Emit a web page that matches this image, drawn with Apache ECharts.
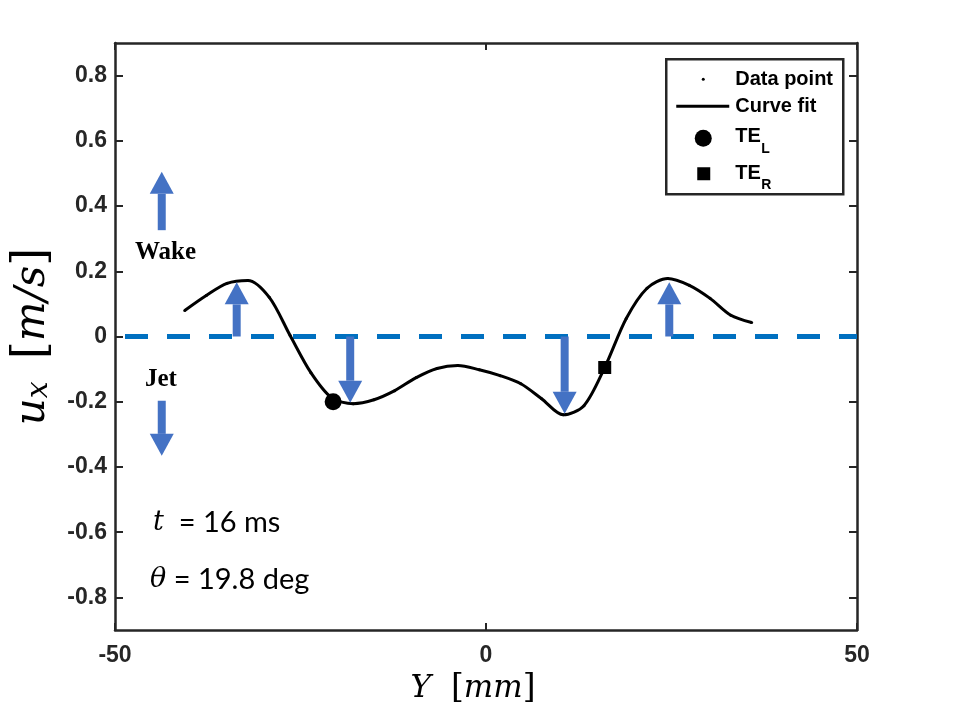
<!DOCTYPE html>
<html>
<head>
<meta charset="utf-8">
<script src="https://cdn.jsdelivr.net/npm/echarts@6/dist/echarts.min.js"></script>
<style>html,body{margin:0;padding:0;background:#fff;}#c{width:953px;height:703px;}</style>
</head>
<body>
<div id="c"></div>
<script>
// Data
const xData = [-40.6, -37.7, -34.9, -32.1, -29.2, -26.4, -23.6, -20.8, -17.9, -15.1, -12.3, -9.4, -6.6, -3.8,
               -0.9, 1.9, 4.7, 7.5, 10.4, 13.2, 16.0, 18.9, 21.7, 24.5, 27.4, 30.2, 33.0, 35.8];
const yData = [0.080, 0.126, 0.163, 0.172, 0.120, 0.003, -0.111, -0.188, -0.206, -0.194, -0.166, -0.126, -0.098, -0.089,
               -0.102, -0.120, -0.145, -0.191, -0.240, -0.212, -0.095, 0.055, 0.148, 0.178, 0.157, 0.117, 0.065, 0.043];
const teL = [-20.6, -0.200];
const teR = [16.0, -0.095];
// arrows: [x, yStart, yTip]
const arrows = [[-33.6, 0, 0.166], [-18.3, 0, -0.203], [10.6, 0, -0.237], [24.7, 0, 0.166],
                [-43.7, 0.326, 0.505], [-43.7, -0.197, -0.366]];
const refLine = [[-50, 0], [50, 0]];
const xTicks = [-50, 0, 50];
const yTicks = [-0.8, -0.6, -0.4, -0.2, 0, 0.2, 0.4, 0.6, 0.8];

const points = xData.map((x, i) => [x, yData[i]]);
const axisColor = '#262626';
const labelFont = { fontFamily: 'Liberation Sans, Arial', fontWeight: 'bold', fontSize: 23, color: axisColor };
const fmt = v => (Math.abs(v) < 1e-9 ? '0' : (Number.isInteger(v) ? String(v) : v.toFixed(1)));

const chart = echarts.init(document.getElementById('c'));
chart.setOption({
  animation: false,
  backgroundColor: '#fff',
  grid: { left: 115, top: 43, right: 96, bottom: 73, containLabel: false, outerBoundsMode: 'none' },
  xAxis: [{
    type: 'value', min: -50, max: 50, interval: 50,
    axisLine: { show: true, onZero: false, lineStyle: { color: axisColor, width: 2.5 } },
    axisTick: { show: true, inside: true, length: 7, lineStyle: { color: axisColor, width: 2 }, customValues: xTicks },
    axisLabel: { show: true, margin: 14, ...labelFont, customValues: xTicks, formatter: fmt },
    splitLine: { show: false },
    name: '{it|Y}{sp| }{n|[}{it|mm}{n|]}',
    nameLocation: 'middle', nameGap: 42,
    nameTextStyle: {
      padding: [0, 26, 0, 0],
      rich: {
        it: { fontFamily: 'DejaVu Serif', fontStyle: 'italic', fontSize: 31, color: '#000' },
        n: { fontFamily: 'DejaVu Serif', fontSize: 33, color: '#000' },
        sp: { fontSize: 30, width: 20 }
      }
    }
  }, {
    type: 'value', min: -50, max: 50, interval: 50, position: 'top',
    axisLine: { show: true, onZero: false, lineStyle: { color: axisColor, width: 2.5 } },
    axisTick: { show: true, inside: true, length: 7, lineStyle: { color: axisColor, width: 2 }, customValues: xTicks },
    axisLabel: { show: false }, splitLine: { show: false }
  }],
  yAxis: [{
    type: 'value', min: -0.9, max: 0.9,
    axisLine: { show: true, onZero: false, lineStyle: { color: axisColor, width: 2.5 } },
    axisTick: { show: true, inside: true, length: 8, lineStyle: { color: axisColor, width: 2 }, customValues: yTicks },
    axisLabel: { show: true, margin: 8, ...labelFont, customValues: yTicks, formatter: fmt },
    splitLine: { show: false },
    name: '{it|u}{sub|x}{sp| }{n|[}{it|m/s}{n|]}',
    nameLocation: 'middle', nameGap: 48, nameRotate: 90,
    nameTextStyle: {
      rich: {
        it: { fontFamily: 'DejaVu Serif', fontStyle: 'italic', fontSize: 42, color: '#000', lineHeight: 50 },
        sub: { fontFamily: 'DejaVu Serif', fontStyle: 'italic', fontSize: 30, color: '#000', lineHeight: 50, padding: [12, 0, 0, 0] },
        n: { fontFamily: 'DejaVu Serif', fontSize: 46, color: '#000', lineHeight: 50 },
        sp: { fontSize: 30, width: 22 }
      }
    }
  }, {
    type: 'value', min: -0.9, max: 0.9, position: 'right',
    axisLine: { show: true, onZero: false, lineStyle: { color: axisColor, width: 2.5 } },
    axisTick: { show: true, inside: true, length: 8, lineStyle: { color: axisColor, width: 2 }, customValues: yTicks },
    axisLabel: { show: false }, splitLine: { show: false }
  }],
  series: [
    {
      name: 'zero', type: 'line', data: refLine, symbol: 'none', silent: true, z: 1,
      lineStyle: { color: '#0070C0', width: 5, type: [23, 19], dashOffset: 32 }
    },
    {
      name: 'Curve fit', type: 'line', data: points, smooth: 0.3, symbol: 'none', z: 3,
      lineStyle: { color: '#000', width: 3 }
    },
    {
      name: 'Data point', type: 'scatter', data: points, symbol: 'circle', symbolSize: 3, z: 4,
      itemStyle: { color: '#000', opacity: 1 }
    },
    {
      name: 'arrows', type: 'custom', data: arrows, z: 5, silent: true,
      renderItem: function (params, api) {
        const p0 = api.coord([api.value(0), api.value(1)]);
        const p1 = api.coord([api.value(0), api.value(2)]);
        const dir = p1[1] > p0[1] ? 1 : -1;
        const headL = 22, headW = 24, shaftW = 8;
        const baseY = p1[1] - dir * headL;
        return {
          type: 'group',
          children: [
            { type: 'rect', shape: { x: p0[0] - shaftW / 2, y: Math.min(p0[1], baseY), width: shaftW, height: Math.abs(baseY - p0[1]) },
              style: { fill: '#4472C4' } },
            { type: 'polygon', shape: { points: [[p1[0], p1[1]], [p1[0] - headW / 2, baseY], [p1[0] + headW / 2, baseY]] },
              style: { fill: '#4472C4' } }
          ]
        };
      }
    },
    {
      name: 'TE_L', type: 'scatter', data: [teL], symbol: 'circle', symbolSize: 17, z: 6,
      itemStyle: { color: '#000', opacity: 1 }
    },
    {
      name: 'TE_R', type: 'scatter', data: [teR], symbol: 'rect', symbolSize: 13, z: 6,
      itemStyle: { color: '#000', opacity: 1 }
    }
  ],
  graphic: [
    { type: 'text', left: 135, top: 240, z: 10,
      style: { text: 'Wake', font: 'bold 25px "Liberation Serif", "Times New Roman", serif', fill: '#000' } },
    { type: 'text', left: 145, top: 367, z: 10,
      style: { text: 'Jet', font: 'bold 25px "Liberation Serif", "Times New Roman", serif', fill: '#000' } },
    { type: 'text', left: 153, top: 508, z: 10,
      style: { text: '{m|t}{r|  = 16 ms}', rich: {
        m: { fontFamily: 'DejaVu Serif', fontStyle: 'italic', fontSize: 27, fill: '#000' },
        r: { fontFamily: 'Lato', fontSize: 29, fill: '#000' } } } },
    { type: 'text', left: 150, top: 565, z: 10,
      style: { text: '{m|θ}{r| = 19.8 deg}', rich: {
        m: { fontFamily: 'DejaVu Serif', fontStyle: 'italic', fontSize: 27, fill: '#000' },
        r: { fontFamily: 'Lato', fontSize: 29, fill: '#000' } } } },
    // legend box
    { type: 'group', left: 665, top: 58, z: 20, children: [
      { type: 'rect', shape: { x: 0, y: 0, width: 177, height: 135 }, style: { fill: '#fff', stroke: '#262626', lineWidth: 2.5 } },
      { type: 'circle', shape: { cx: 37, cy: 20, r: 1.5 }, style: { fill: '#000' } },
      { type: 'text', x: 69, y: 20, style: { text: 'Data point', font: 'bold 20px "Liberation Sans", Arial', fill: '#000', textVerticalAlign: 'middle' } },
      { type: 'line', shape: { x1: 10, y1: 47, x2: 63, y2: 47 }, style: { stroke: '#000', lineWidth: 3 } },
      { type: 'text', x: 69, y: 47, style: { text: 'Curve fit', font: 'bold 20px "Liberation Sans", Arial', fill: '#000', textVerticalAlign: 'middle' } },
      { type: 'circle', shape: { cx: 37, cy: 79, r: 8.5 }, style: { fill: '#000' } },
      { type: 'text', x: 69, y: 77, style: { text: 'TE', font: 'bold 20px "Liberation Sans", Arial', fill: '#000', textVerticalAlign: 'middle' } },
      { type: 'text', x: 95, y: 90, style: { text: 'L', font: 'bold 14px "Liberation Sans", Arial', fill: '#000', textVerticalAlign: 'middle' } },
      { type: 'rect', shape: { x: 31, y: 108, width: 13, height: 13 }, style: { fill: '#000' } },
      { type: 'text', x: 69, y: 114, style: { text: 'TE', font: 'bold 20px "Liberation Sans", Arial', fill: '#000', textVerticalAlign: 'middle' } },
      { type: 'text', x: 95, y: 126, style: { text: 'R', font: 'bold 14px "Liberation Sans", Arial', fill: '#000', textVerticalAlign: 'middle' } }
    ] }
  ]
});
</script>
</body>
</html>
